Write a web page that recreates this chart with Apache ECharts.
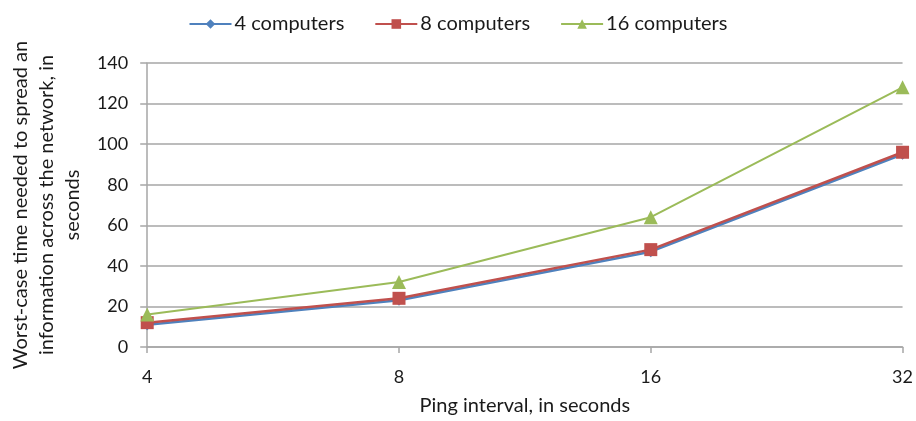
<!DOCTYPE html>
<html>
<head>
<meta charset="utf-8">
<script src="https://cdn.jsdelivr.net/npm/echarts@6/dist/echarts.min.js"></script>
<style>
  html, body { margin: 0; padding: 0; background: #fff; }
  #chart { width: 916px; height: 421px; }
</style>
</head>
<body>
<div id="chart"></div>
<script>
// Ping interval categories (seconds)
const pingIntervals = ['4', '8', '16', '32'];

// Worst-case spread time (seconds) per network size
const fourComputers = [11, 23, 47, 95];
const eightComputers = [12, 24, 48, 96];
const sixteenComputers = [16, 32, 64, 128];

const seriesNames = ['4 computers', '8 computers', '16 computers'];

const FONT = 'Lato, "Open Sans", sans-serif';
const TEXT = '#1a1a1a';
const GRID = '#a6a6a6';

const chart = echarts.init(document.getElementById('chart'), null, { renderer: 'canvas' });

chart.setOption({
  animation: false,
  textStyle: { fontFamily: FONT },
  legend: {
    top: 9,
    left: 'center',
    itemWidth: 42,
    itemHeight: 12,
    itemGap: 30,
    textStyle: { fontSize: 20, color: TEXT, fontFamily: FONT, padding: [0, 0, 0, -2] },
    data: seriesNames
  },
  grid: { left: 140, right: 12, top: 63, bottom: 69, containLabel: false },
  xAxis: {
    type: 'category',
    data: pingIntervals,
    boundaryGap: false,
    name: 'Ping interval, in seconds',
    nameLocation: 'middle',
    nameGap: 49,
    nameTextStyle: { fontSize: 20, color: TEXT, fontFamily: FONT },
    axisLine: { lineStyle: { color: GRID, width: 1.5 } },
    axisTick: { show: true, length: 6, lineStyle: { color: GRID, width: 1.5 } },
    axisLabel: { fontSize: 18, color: TEXT, margin: 21, fontFamily: FONT },
    splitLine: { show: false }
  },
  yAxis: {
    type: 'value',
    min: 0,
    max: 140,
    interval: 20,
    name: 'Worst-case time needed to spread an\ninformation across the network, in\nseconds',
    nameLocation: 'middle',
    nameRotate: 90,
    nameGap: 56,
    nameTextStyle: { fontSize: 20, color: TEXT, lineHeight: 26, align: 'center', fontFamily: FONT },
    axisLine: { show: true, lineStyle: { color: GRID, width: 1.5 } },
    axisTick: { show: true, inside: false, length: 7, lineStyle: { color: GRID, width: 1.5 } },
    axisLabel: { fontSize: 18, color: TEXT, margin: 19, fontFamily: FONT },
    splitLine: { show: true, lineStyle: { color: GRID, width: 1.5 } }
  },
  series: [
    {
      name: seriesNames[0],
      type: 'line',
      data: fourComputers,
      symbol: 'diamond',
      symbolSize: 11,
      lineStyle: { color: '#4F81BD', width: 2.5 },
      itemStyle: { color: '#4F81BD' },
      z: 2
    },
    {
      name: seriesNames[1],
      type: 'line',
      data: eightComputers,
      symbol: 'rect',
      symbolSize: 13,
      lineStyle: { color: '#C0504D', width: 2.5 },
      itemStyle: { color: '#C0504D' },
      z: 3
    },
    {
      name: seriesNames[2],
      type: 'line',
      data: sixteenComputers,
      symbol: 'triangle',
      symbolSize: 14,
      lineStyle: { color: '#9BBB59', width: 2 },
      itemStyle: { color: '#9BBB59' },
      z: 4
    }
  ]
});
</script>
</body>
</html>
